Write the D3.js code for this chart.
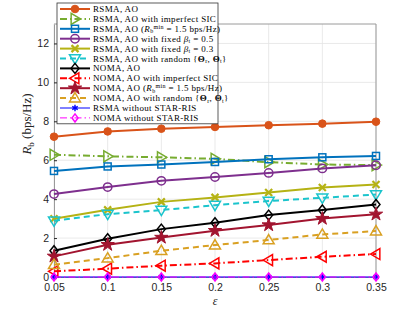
<html>
<head>
    <title>Rb versus epsilon</title>
    <script type="text/javascript" src="https://cdn.jsdelivr.net/npm/d3@7"></script>
    <style>
        body { margin: 0; background: #fff; }
    </style>
</head>
<body>
<div id="chart-container"></div>

<script type="text/javascript">

    // epsilon values on the x axis
    var epsilons = [0.05, 0.1, 0.15, 0.2, 0.25, 0.3, 0.35];
    var xTickLabels = ["0.05", "0.1", "0.15", "0.2", "0.25", "0.3", "0.35"];
    var yTicks = [0, 2, 4, 6, 8, 10, 12];

    // series values (bps/Hz)
    var rsmaAO          = [7.21, 7.48, 7.62, 7.71, 7.8, 7.88, 7.98];
    var rsmaImperfect   = [6.28, 6.2, 6.15, 6.07, 5.9, 5.78, 5.75];
    var rsmaRmin        = [5.45, 5.68, 5.78, 5.91, 6.05, 6.15, 6.22];
    var rsmaBeta05      = [4.26, 4.62, 4.94, 5.14, 5.35, 5.58, 5.74];
    var rsmaBeta03      = [2.99, 3.45, 3.86, 4.09, 4.34, 4.6, 4.75];
    var rsmaRandom      = [2.89, 3.23, 3.44, 3.69, 3.9, 4.07, 4.24];
    var nomaAO          = [1.35, 1.97, 2.46, 2.79, 3.18, 3.44, 3.73];
    var nomaImperfect   = [0.29, 0.43, 0.58, 0.7, 0.87, 1.04, 1.18];
    var nomaRmin        = [1.06, 1.66, 2.03, 2.38, 2.67, 3.0, 3.22];
    var nomaRandom      = [0.63, 0.97, 1.35, 1.64, 1.9, 2.19, 2.36];
    var rsmaNoStar      = [0, 0, 0, 0, 0, 0, 0];
    var nomaNoStar      = [0, 0, 0, 0, 0, 0, 0];

    var DASH_DOT = "7,3,1.5,3";
    var DASHED = "6,4";

    // one entry per curve: label parts as [text, style] pairs
    var series = [
        {values: rsmaAO, color: "#D95319", dash: null, width: 2, marker: "dot",
            label: [["RSMA, AO"]]},
        {values: rsmaImperfect, color: "#77AC30", dash: DASH_DOT, width: 2, marker: "triRight",
            label: [["RSMA, AO with imperfect SIC"]]},
        {values: rsmaRmin, color: "#0072BD", dash: null, width: 2, marker: "square",
            label: [["RSMA, AO ("], ["R", "it"], ["b", "sub"], ["min", "sup"], [" = 1.5 bps/Hz)"]]},
        {values: rsmaBeta05, color: "#7E2F8E", dash: null, width: 2, marker: "circle",
            label: [["RSMA, AO with fixed "], ["β", "it"], ["t", "sub"], [" = 0.5"]]},
        {values: rsmaBeta03, color: "#B5B214", dash: null, width: 2, marker: "x",
            label: [["RSMA, AO with fixed "], ["β", "it"], ["t", "sub"], [" = 0.3"]]},
        {values: rsmaRandom, color: "#1BC4CC", dash: DASHED, width: 2, marker: "triDown",
            label: [["RSMA, AO with random {"], ["Θ", "bold"], ["r", "sub"], [", "], ["Θ", "bold"], ["t", "sub"], ["}"]]},
        {values: nomaAO, color: "#000000", dash: null, width: 2, marker: "diamond",
            label: [["NOMA, AO"]]},
        {values: nomaImperfect, color: "#FF0000", dash: DASH_DOT, width: 2, marker: "triLeft",
            label: [["NOMA, AO with imperfect SIC"]]},
        {values: nomaRmin, color: "#A2142F", dash: null, width: 2, marker: "star",
            label: [["NOMA, AO ("], ["R", "it"], ["b", "sub"], ["min", "sup"], [" = 1.5 bps/Hz)"]]},
        {values: nomaRandom, color: "#D9A022", dash: DASHED, width: 2, marker: "triUp",
            label: [["NOMA, AO with random {"], ["Θ", "bold"], ["r", "sub"], [", "], ["Θ", "bold"], ["t", "sub"], ["}"]]},
        {values: rsmaNoStar, color: "#0000FF", dash: null, width: 1, marker: "asterisk",
            label: [["RSMA without STAR-RIS"]]},
        {values: nomaNoStar, color: "#FF00FF", dash: DASH_DOT, width: 1, marker: "diamondSmall",
            label: [["NOMA without STAR-RIS"]]}
    ];

    var canvas = d3.select("#chart-container").append("svg")
        .attr("width", 415)
        .attr("height", 312);

    var x = d3.scaleLinear().domain([0.05, 0.35]).range([54, 376]);
    var y = d3.scaleLinear().domain([0, 13]).range([277, 24]);

    var AXIS_COLOR = "#262626";
    var BOX_COLOR = "#9a9a9a";

    // grid
    canvas.append("g").selectAll("line").data(epsilons).enter().append("line")
        .attr("x1", function (d) { return x(d); }).attr("x2", function (d) { return x(d); })
        .attr("y1", y(0)).attr("y2", y(13))
        .attr("stroke", "#e3e3e3").attr("stroke-width", 0.8);
    canvas.append("g").selectAll("line").data(yTicks).enter().append("line")
        .attr("x1", x(0.05)).attr("x2", x(0.35))
        .attr("y1", function (d) { return y(d); }).attr("y2", function (d) { return y(d); })
        .attr("stroke", "#e3e3e3").attr("stroke-width", 0.8);

    // axes (ticks point inwards like MATLAB)
    var xAxis = d3.axisBottom(x).tickValues(epsilons)
        .tickFormat(function (d, i) { return xTickLabels[i]; })
        .tickSizeInner(-3).tickSizeOuter(0).tickPadding(7);
    var yAxis = d3.axisLeft(y).tickValues(yTicks).tickFormat(d3.format("d"))
        .tickSizeInner(-3).tickSizeOuter(0).tickPadding(5);

    var gx = canvas.append("g").attr("transform", "translate(0," + y(0) + ")").call(xAxis);
    var gy = canvas.append("g").attr("transform", "translate(" + x(0.05) + ",0)").call(yAxis);
    [gx, gy].forEach(function (g) {
        g.select(".domain").attr("stroke", BOX_COLOR);
        g.selectAll(".tick line").attr("stroke", AXIS_COLOR);
        g.selectAll("text").attr("fill", AXIS_COLOR)
            .attr("font-family", "'Liberation Sans', Arial, sans-serif").attr("font-size", 10.5);
    });

    // box top and right
    canvas.append("line").attr("x1", x(0.05)).attr("x2", x(0.35)).attr("y1", y(13)).attr("y2", y(13))
        .attr("stroke", BOX_COLOR);
    canvas.append("line").attr("x1", x(0.35)).attr("x2", x(0.35)).attr("y1", y(13)).attr("y2", y(0))
        .attr("stroke", BOX_COLOR);

    // marker shapes drawn around (0,0)
    function drawMarker(g, kind, color) {
        var p;
        if (kind === "dot") {
            g.append("circle").attr("r", 3.8).attr("fill", color).attr("stroke", color);
            return;
        }
        if (kind === "circle") {
            g.append("circle").attr("r", 4.2).attr("fill", "none").attr("stroke", color).attr("stroke-width", 1.5);
            return;
        }
        if (kind === "square") {
            g.append("rect").attr("x", -3.5).attr("y", -3.5).attr("width", 7).attr("height", 7)
                .attr("fill", "none").attr("stroke", color).attr("stroke-width", 1.5);
            return;
        }
        if (kind === "x") {
            g.append("path").attr("d", "M-3.5,-3.5L3.5,3.5M-3.5,3.5L3.5,-3.5")
                .attr("stroke", color).attr("stroke-width", 2.2);
            return;
        }
        if (kind === "asterisk") {
            g.append("path").attr("d", d3.symbol(d3.symbolAsterisk, 28)())
                .attr("fill", "none").attr("stroke", color).attr("stroke-width", 1.4);
            return;
        }
        if (kind === "star") {
            g.append("path").attr("d", d3.symbol(d3.symbolStar, 55)())
                .attr("fill", color).attr("stroke", color).attr("stroke-width", 1);
            return;
        }
        var s = 5.5;
        if (kind === "triRight") p = "M" + s + ",0L" + (-s * 0.7) + "," + (-s) + "L" + (-s * 0.7) + "," + s + "Z";
        if (kind === "triLeft") p = "M" + (-s) + ",0L" + (s * 0.7) + "," + (-s) + "L" + (s * 0.7) + "," + s + "Z";
        if (kind === "triUp") p = "M0," + (-s) + "L" + s + "," + (s * 0.7) + "L" + (-s) + "," + (s * 0.7) + "Z";
        if (kind === "triDown") p = "M0," + s + "L" + s + "," + (-s * 0.7) + "L" + (-s) + "," + (-s * 0.7) + "Z";
        if (kind === "diamond") p = "M0,-5L4,0L0,5L-4,0Z";
        if (kind === "diamondSmall") p = "M0,-4L3,0L0,4L-3,0Z";
        g.append("path").attr("d", p).attr("fill", "none").attr("stroke", color).attr("stroke-width", 1.5);
    }

    var line = d3.line()
        .x(function (d, i) { return x(epsilons[i]); })
        .y(function (d) { return y(d); });

    series.forEach(function (s) {
        var g = canvas.append("g");
        g.append("path").datum(s.values)
            .attr("d", line)
            .attr("fill", "none")
            .attr("stroke", s.color)
            .attr("stroke-width", s.width)
            .attr("stroke-dasharray", s.dash);
        g.selectAll("g.marker").data(s.values).enter().append("g")
            .attr("class", "marker")
            .attr("transform", function (d, i) { return "translate(" + x(epsilons[i]) + "," + y(d) + ")"; })
            .each(function () { drawMarker(d3.select(this), s.marker, s.color); });
    });

    // axis labels
    canvas.append("text")
        .attr("x", (x(0.05) + x(0.35)) / 2).attr("y", 305)
        .attr("text-anchor", "middle")
        .attr("font-family", "'Liberation Serif', serif").attr("font-style", "italic")
        .attr("font-size", 12).attr("fill", AXIS_COLOR)
        .text("ε");

    var yLabel = canvas.append("text")
        .attr("transform", "translate(31,124) rotate(-90)")
        .attr("text-anchor", "middle")
        .attr("font-family", "'Liberation Serif', serif")
        .attr("font-size", 13).attr("fill", AXIS_COLOR);
    yLabel.append("tspan").attr("font-style", "italic").text("R");
    yLabel.append("tspan").attr("font-size", 9).attr("dy", 3).text("b");
    yLabel.append("tspan").attr("dy", -3).text(" (bps/Hz)");

    // legend
    var LEG_X = 57, LEG_Y = 3, LEG_W = 161, ROW = 9.9;
    var legend = canvas.append("g");
    legend.append("rect")
        .attr("x", LEG_X).attr("y", LEG_Y).attr("width", LEG_W).attr("height", ROW * series.length + 2)
        .attr("fill", "#fff").attr("stroke", "#333").attr("stroke-width", 0.8);

    series.forEach(function (s, i) {
        var cy = LEG_Y + 6 + i * ROW;
        var row = legend.append("g");
        row.append("line")
            .attr("x1", LEG_X + 3).attr("x2", LEG_X + 33).attr("y1", cy).attr("y2", cy)
            .attr("stroke", s.color).attr("stroke-width", s.width)
            .attr("stroke-dasharray", s.dash);
        var mg = row.append("g").attr("transform", "translate(" + (LEG_X + 18) + "," + cy + ")");
        drawMarker(mg, s.marker, s.color);

        var t = row.append("text")
            .attr("x", LEG_X + 36).attr("y", cy + 3)
            .attr("font-family", "'Liberation Serif', serif")
            .attr("font-size", 9).attr("letter-spacing", 0.35).attr("fill", "#000");
        var shift = 0;
        s.label.forEach(function (part) {
            var ts = t.append("tspan").text(part[0]);
            var style = part[1];
            var dy = 0;
            if (style === "it") ts.attr("font-style", "italic");
            if (style === "bold") ts.attr("font-weight", "bold");
            if (style === "sub") { ts.attr("font-size", 6); dy = 1.5; }
            if (style === "sup") { ts.attr("font-size", 6); dy = -3; }
            if (dy - shift !== 0) ts.attr("dy", dy - shift);
            shift = dy;
        });
    });

</script>
</body>
</html>
